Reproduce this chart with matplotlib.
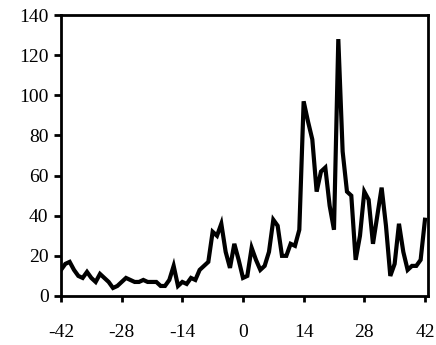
import matplotlib
matplotlib.use("Agg")
import matplotlib.pyplot as plt

days = list(range(-42, 43))
values = [13, 16, 17, 13, 10, 9, 12, 9, 7, 11,
          9, 7, 4, 5, 7, 9, 8, 7, 7, 8,
          7, 7, 7, 5, 5, 8, 15, 5, 7, 6,
          9, 8, 13, 15, 17, 32, 30, 36, 22, 14,
          26, 18, 9, 10, 24, 18, 13, 15, 22, 38,
          35, 20, 20, 26, 25, 33, 97, 87, 78, 52,
          62, 64, 45, 33, 128, 72, 52, 50, 18, 30,
          52, 48, 26, 40, 54, 35, 10, 16, 36, 22,
          13, 15, 15, 18, 38]
xticks = [-42, -28, -14, 0, 14, 28, 42]
yticks = [0, 20, 40, 60, 80, 100, 120, 140]

plt.rcParams['font.family'] = ['Liberation Serif', 'DejaVu Serif']
fig = plt.figure(figsize=(4.36, 3.45), dpi=100)
ax = fig.add_axes([61/436, 49/345, (428-61)/436, (296-15)/345])
ax.plot(days, values, color='black', lw=3.0, solid_joinstyle='miter')
ax.set_xlim(-42, 42.7)
ax.set_ylim(0, 140)
ax.set_xticks(xticks)
ax.set_yticks(yticks)
ax.set_xticklabels([str(t) for t in xticks])
for s in ax.spines.values():
    s.set_linewidth(2.0)
ax.tick_params(axis='x', direction='out', length=4, width=2, pad=16, labelsize=14)
ax.tick_params(axis='y', direction='out', length=5, width=2, pad=4, labelsize=14)
fig.savefig("out.png", dpi=100)
